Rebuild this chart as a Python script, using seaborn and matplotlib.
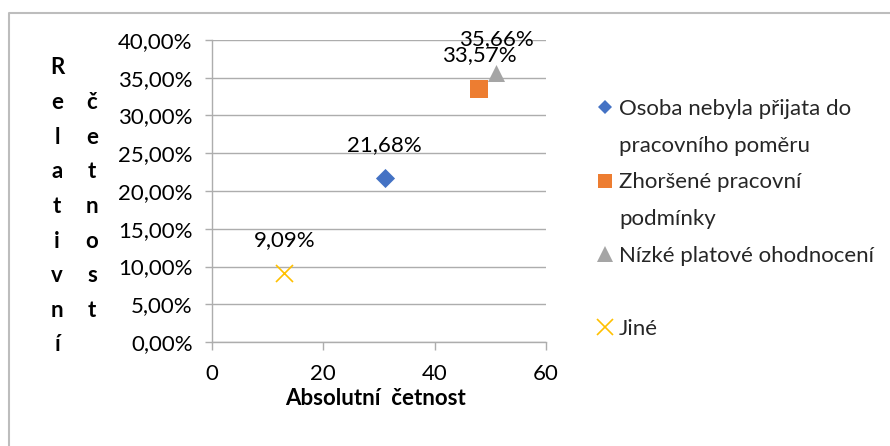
import matplotlib
matplotlib.use("Agg")
import matplotlib.pyplot as plt
from matplotlib.lines import Line2D
from matplotlib.ticker import FuncFormatter, MultipleLocator
import seaborn as sns
import pandas as pd

# data
categories = ["Osoba nebyla přijata do pracovního poměru",
              "Zhoršené pracovní podmínky",
              "Nízké platové ohodnocení",
              "Jiné"]
legend_lines = [["Osoba nebyla přijata do", "pracovního poměru"],
                ["Zhoršené pracovní", "podmínky"],
                ["Nízké platové ohodnocení", " "],
                ["Jiné"]]
absolute = [31, 48, 51, 13]
relative = [21.68, 33.57, 35.66, 9.09]
colors = ["#4472C4", "#ED7D31", "#A5A5A5", "#FFC000"]
markers = ["D", "s", "^", "x"]
sizes = [95, 160, 150, 150]
legend_sizes = [7.6, 10.5, 11.5, 11.5]

df = pd.DataFrame({"kategorie": categories, "abs": absolute, "rel": relative})

sns.set_theme(style="white")
plt.rcParams["font.family"] = ["Lato", "DejaVu Sans"]
FS = 16
GRID = "#ADADAD"

fig = plt.figure(figsize=(8.9, 4.46), dpi=100)
ax = fig.add_axes([212 / 890, 1 - 342 / 446, (546 - 212) / 890, (342 - 40) / 446])

for i, row in df.iterrows():
    sns.scatterplot(x=[row["abs"]], y=[row["rel"]], ax=ax, color=colors[i],
                    marker=markers[i], s=sizes[i], linewidth=1.2 if markers[i] == "x" else 0,
                    legend=False, zorder=3)
    lab = f"{row['rel']:.2f}%".replace(".", ",")
    ax.annotate(lab, (row["abs"], row["rel"]), xytext=(0, 24), textcoords="offset points",
                ha="center", va="center", fontsize=FS, color="black", zorder=4)

ax.set_xlim(0, 60)
ax.set_ylim(0, 40)
ax.xaxis.set_major_locator(MultipleLocator(20))
ax.yaxis.set_major_locator(MultipleLocator(5))
ax.yaxis.set_major_formatter(FuncFormatter(lambda v, p: f"{v:.2f}%".replace(".", ",")))
ax.grid(axis="y", color=GRID, linewidth=1.0)
ax.grid(axis="x", visible=False)
ax.set_axisbelow(True)
for side in ["top", "right"]:
    ax.spines[side].set_visible(False)
for side in ["left", "bottom"]:
    ax.spines[side].set_color(GRID)
    ax.spines[side].set_linewidth(1.0)
ax.tick_params(axis="y", left=True, length=5, width=1.0, color=GRID, pad=9,
               labelsize=FS, labelcolor="black")
ax.tick_params(axis="x", bottom=True, length=6, width=1.0, color=GRID, pad=10,
               labelsize=FS, labelcolor="black")
ax.set_xlabel("Absolutní  četnost", fontsize=FS, fontweight="bold", color="black")
ax.xaxis.set_label_coords(0.49, -0.152)
ax.xaxis.label.set_va("top")
ax.set_ylabel("")

# stacked vertical axis title
for j, ch in enumerate("Relativní"):
    fig.text(57 / 890, 1 - (68 + 34.6 * j) / 446, ch, ha="center", va="center",
             fontsize=FS, fontweight="bold", color="black")
for j, ch in enumerate("četnost"):
    fig.text(92 / 890, 1 - (68 + 34.6 * (j + 1)) / 446, ch, ha="center", va="center",
             fontsize=FS, fontweight="bold", color="black")

# legend: one row per text line, marker on the first line of each entry
handles, labels = [], []
for i, lines in enumerate(legend_lines):
    for k, line in enumerate(lines):
        if k == 0:
            handles.append(Line2D([], [], linestyle="none", marker=markers[i],
                                  markersize=legend_sizes[i], color=colors[i],
                                  markeredgewidth=1.2 if markers[i] == "x" else 0))
        else:
            handles.append(Line2D([], [], linestyle="none", marker=""))
        labels.append(line)
fig.legend(handles, labels, loc="upper left", bbox_to_anchor=(597 / 890, 1 - 99 / 446),
           frameon=False, borderpad=0, borderaxespad=0, handlelength=0.75,
           handletextpad=0.25, labelspacing=0.75, fontsize=FS)

# chart area border (left and top visible)
fig.add_artist(Line2D([9 / 890, 9 / 890, 1], [0, 1 - 13 / 446, 1 - 13 / 446],
                      transform=fig.transFigure, color="#BDBDBD", linewidth=1.5))

fig.savefig("out.png", dpi=100)
